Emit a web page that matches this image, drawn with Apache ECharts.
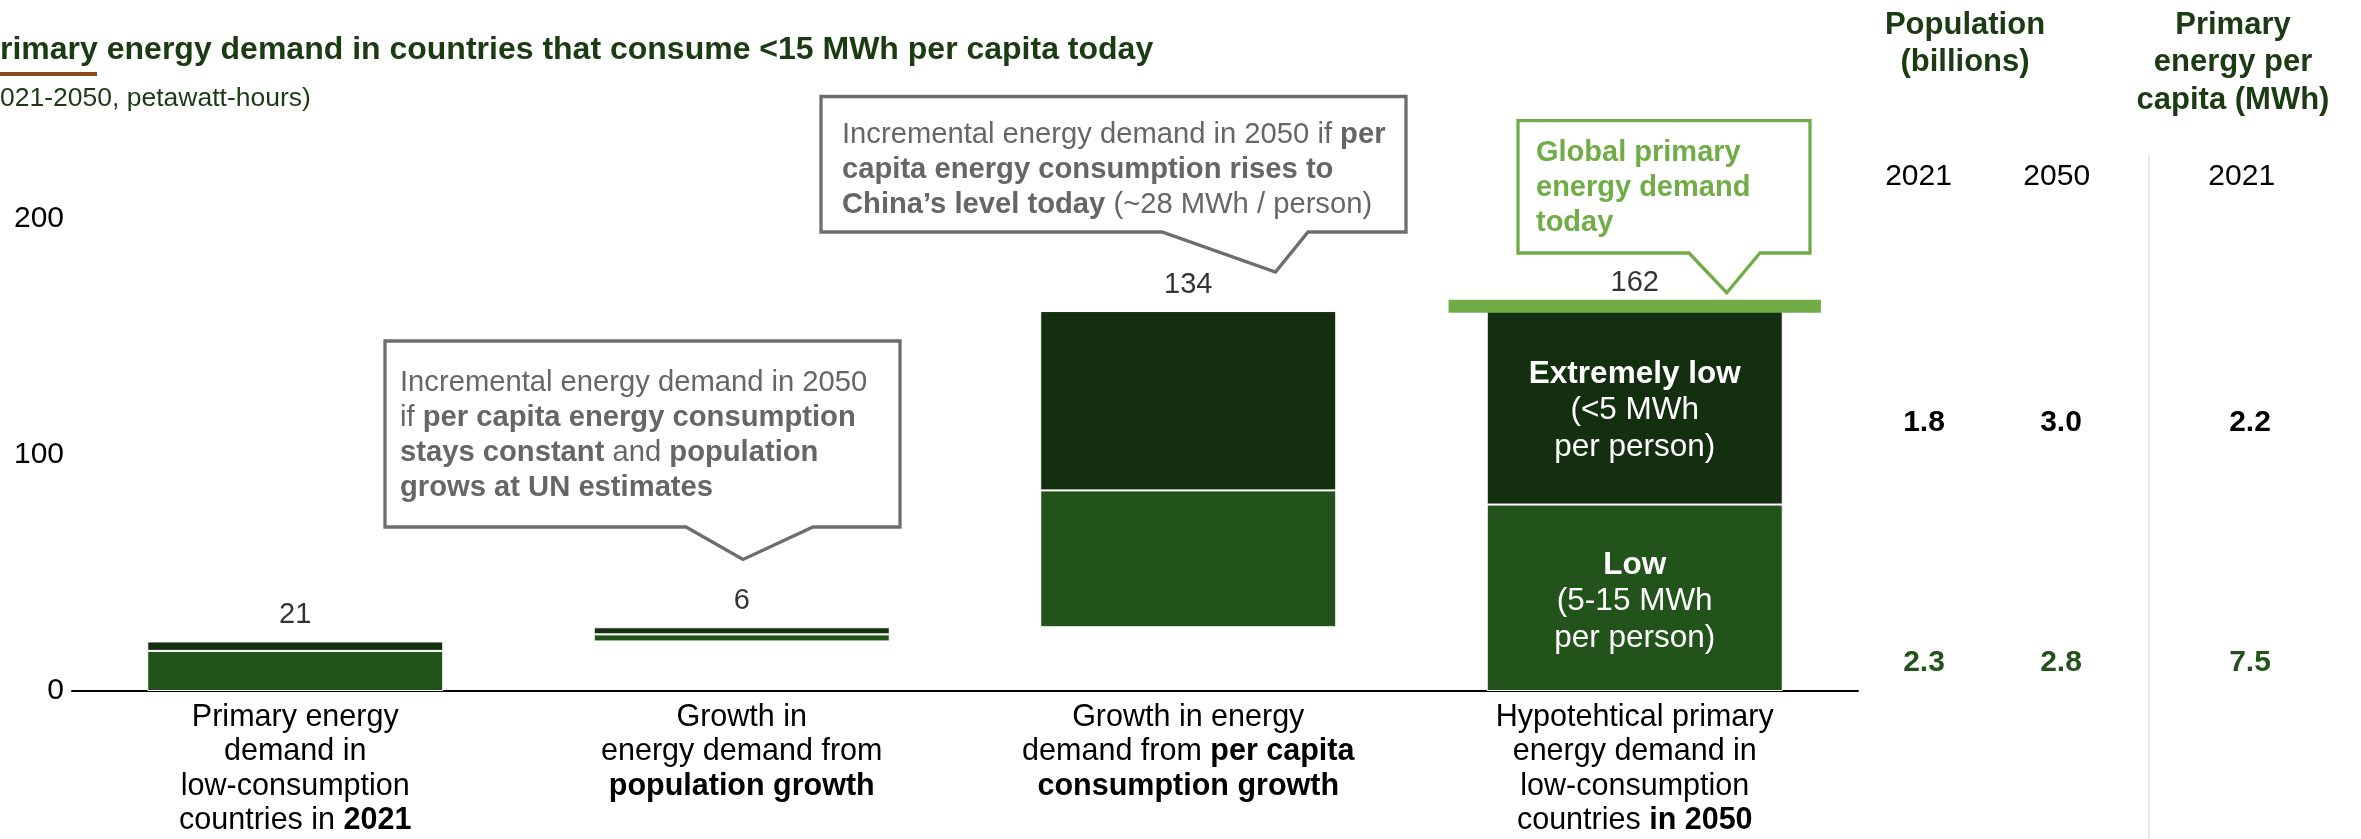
<!DOCTYPE html>
<html>
<head>
<meta charset="utf-8">
<script src="https://cdn.jsdelivr.net/npm/echarts@6/dist/echarts.min.js"></script>
<style>
html,body{margin:0;padding:0;background:#fff;}
#c{width:2361px;height:839px;}
</style>
</head>
<body>
<div id="c"></div>
<script>
// ---------------- DATA ----------------
const categories = [
  'Primary energy\ndemand in\nlow-consumption\ncountries in {b|2021}',
  'Growth in\nenergy demand from\n{b|population growth}',
  'Growth in energy\ndemand from {b|per capita}\n{b|consumption growth}',
  'Hypotehtical primary\nenergy demand in\nlow-consumption\ncountries {b|in 2050}'
];
const barKinds = ['total', 'delta', 'delta', 'total'];
const lowValues = [17, 3, 58, 79];        // Low (5-15 MWh per person)
const extremeValues = [4, 3, 76, 83];     // Extremely low (<5 MWh per person)
const totals = [21, 6, 134, 162];
const globalDemandToday = [163];          // drawn on the last category
const yTicks = [0, 100, 200];
const segmentNames = ['Low', 'Extremely low'];
const segmentRanges = ['(5-15 MWh', '(<5 MWh'];
const tableYears = ['2021', '2050', '2021'];
const extremeRow = [1.8, 3.0, 2.2];
const lowRow = [2.3, 2.8, 7.5];

// ---------------- STYLE ----------------
const FONT = "'Liberation Sans', Arial, Helvetica, sans-serif";
const DARK = '#142f0f';
const LOW = '#22531a';
const TITLE = '#1b3b13';
const LIGHTGREEN = '#70ad47';
const GREY = '#666666';

// waterfall bases
let running = 0;
const bases = totals.map((t, i) => {
  if (barKinds[i] === 'total') { running = t; return 0; }
  const b = running; running += t; return b;
});
const tops = totals.map((t, i) => bases[i] + t);
const lastIdx = categories.length - 1;

const chart = echarts.init(document.getElementById('c'), null, {renderer: 'canvas', width: 2361, height: 839});

const insideLabel = (k) => ({
  show: true, position: 'inside', offset: [0, 4], color: '#fff', fontFamily: FONT, fontSize: 31.5, lineHeight: 36.5,
  formatter: '{b|' + segmentNames[k] + '}\n' + segmentRanges[k] + '\nper person)',
  rich: {b: {fontWeight: 'bold', color: '#fff', fontFamily: FONT, fontSize: 31.5, lineHeight: 36.5}}
});

const option = {
  animation: false,
  backgroundColor: '#fff',
  grid: {left: 72, right: 503, top: 101, bottom: 148, containLabel: false},
  xAxis: {
    type: 'category',
    data: categories,
    axisLine: {show: true, lineStyle: {color: '#000', width: 2}},
    axisTick: {show: false},
    axisLabel: {
      interval: 0, margin: 9, color: '#000', fontFamily: FONT, fontSize: 30.5, lineHeight: 34.5,
      align: 'center', verticalAlign: 'top',
      rich: {b: {fontWeight: 'bold', color: '#000', fontFamily: FONT, fontSize: 30.5, lineHeight: 34.5}}
    }
  },
  yAxis: {
    type: 'value', min: 0, max: 250, interval: 100,
    axisLine: {show: false}, axisTick: {show: false}, splitLine: {show: false},
    axisLabel: {
      color: '#000', fontFamily: FONT, fontSize: 30, margin: 8,
      formatter: v => yTicks.indexOf(v) >= 0 ? String(v) : ''
    }
  },
  series: [
    {type: 'bar', stack: 's', barWidth: '66.3%', silent: true,
     itemStyle: {color: 'rgba(0,0,0,0)'}, data: bases},
    {type: 'bar', stack: 's', name: segmentNames[0], barWidth: '66.3%',
     itemStyle: {color: LOW, borderColor: '#fff', borderWidth: 1},
     data: lowValues.map((v, i) => i === lastIdx ? {value: v, label: insideLabel(0)} : v)},
    {type: 'bar', stack: 's', name: segmentNames[1], barWidth: '66.3%',
     itemStyle: {color: DARK, borderColor: '#fff', borderWidth: 1},
     data: extremeValues.map((v, i) => i === lastIdx ? {value: v, label: insideLabel(1)} : v)},
    {type: 'custom', z: 5,
     data: globalDemandToday.map(v => [lastIdx, v]),
     encode: {x: 0, y: 1},
     renderItem: (params, api) => {
       const p = api.coord([api.value(0), api.value(1)]);
       const band = api.size([1, 0])[0];
       const w = band * 0.834;
       return {type: 'rect', shape: {x: p[0] - w / 2, y: p[1] - 6.5, width: w, height: 13},
               style: {fill: LIGHTGREEN}};
     }},
    {type: 'scatter', symbolSize: 1, itemStyle: {color: 'rgba(0,0,0,0)'}, z: 6,
     data: tops.map((t, i) => [i, t]),
     label: {show: true, position: 'top', distance: 11, color: '#000', fontFamily: FONT, fontSize: 29,
             formatter: p => String(totals[p.dataIndex])}}
  ],
  graphic: []
};

// ---------------- ANNOTATIONS / TABLE ----------------
function callout(pts, color) {
  return {type: 'polygon', z: 50, shape: {points: pts},
          style: {fill: '#fff', stroke: color, lineWidth: 3.3, lineJoin: 'miter'}};
}
function ctext(x, y, text, color, size, lh, bold, align) {
  return {type: 'text', z: 60, x: x, y: y,
    style: {text: text, fill: color, fontFamily: FONT, fontSize: size, lineHeight: lh,
            fontWeight: bold ? 'bold' : 'normal', align: align || 'left', verticalAlign: 'top',
            rich: {b: {fontWeight: 'bold', fill: color, fontFamily: FONT, fontSize: size, lineHeight: lh}}}};
}
const g = [];
// title
g.push(ctext(0, 50 - 18, 'rimary energy demand in countries that consume <15 MWh per capita today', TITLE, 32, 36, true));
g.push({type: 'rect', z: 60, shape: {x: 0, y: 72, width: 97, height: 4}, style: {fill: '#8B4A1F'}});
g.push(ctext(0, 99 - 15, '021-2050, petawatt-hours)', TITLE, 26.5, 30, false));

// callout 1
g.push(callout([[385,341],[900,341],[900,527],[813,527],[743,559.5],[686,527],[385,527]], '#6d6d6d'));
g.push(ctext(400, 365.5,
  'Incremental energy demand in 2050\nif {b|per capita energy consumption}\n{b|stays constant} and {b|population}\n{b|grows at UN estimates}',
  GREY, 29.2, 35, false));
// callout 2
g.push(callout([[821,96.5],[1406,96.5],[1406,232],[1308,232],[1275.5,272],[1162,232],[821,232]], '#6d6d6d'));
g.push(ctext(842, 117.5,
  'Incremental energy demand in 2050 if {b|per}\n{b|capita energy consumption rises to}\n{b|China\u2019s level today} (~28 MWh / person)',
  GREY, 29.2, 35, false));
// callout 3
g.push(callout([[1518,120.7],[1810,120.7],[1810,253],[1760,253],[1726.7,292.7],[1689,253],[1518,253]], LIGHTGREEN));
g.push(ctext(1536, 135.5, 'Global primary\nenergy demand\ntoday', LIGHTGREEN, 29, 35, true));

// table
g.push(ctext(1965, 6.25, 'Population\n(billions)', TITLE, 31, 37.5, true, 'center'));
g.push(ctext(2233, 6.25, 'Primary\nenergy per\ncapita (MWh)', TITLE, 31, 37.5, true, 'center'));
g.push({type: 'line', z: 40, shape: {x1: 2149, y1: 155, x2: 2149, y2: 839}, style: {stroke: '#e8e8e8', lineWidth: 2}});
const yearX = [1918.5, 2056.7, 2241.7];
const valX = [1924, 2061, 2250];
tableYears.forEach((t, i) => g.push(ctext(yearX[i], 176.7 - 17, t, '#000', 30, 34, false, 'center')));
extremeRow.forEach((v, i) => g.push(ctext(valX[i], 423 - 17, v.toFixed(1), '#000', 30, 34, true, 'center')));
lowRow.forEach((v, i) => g.push(ctext(valX[i], 663 - 17, v.toFixed(1), LOW, 30, 34, true, 'center')));

option.graphic = g;
chart.setOption(option);
</script>
</body>
</html>
